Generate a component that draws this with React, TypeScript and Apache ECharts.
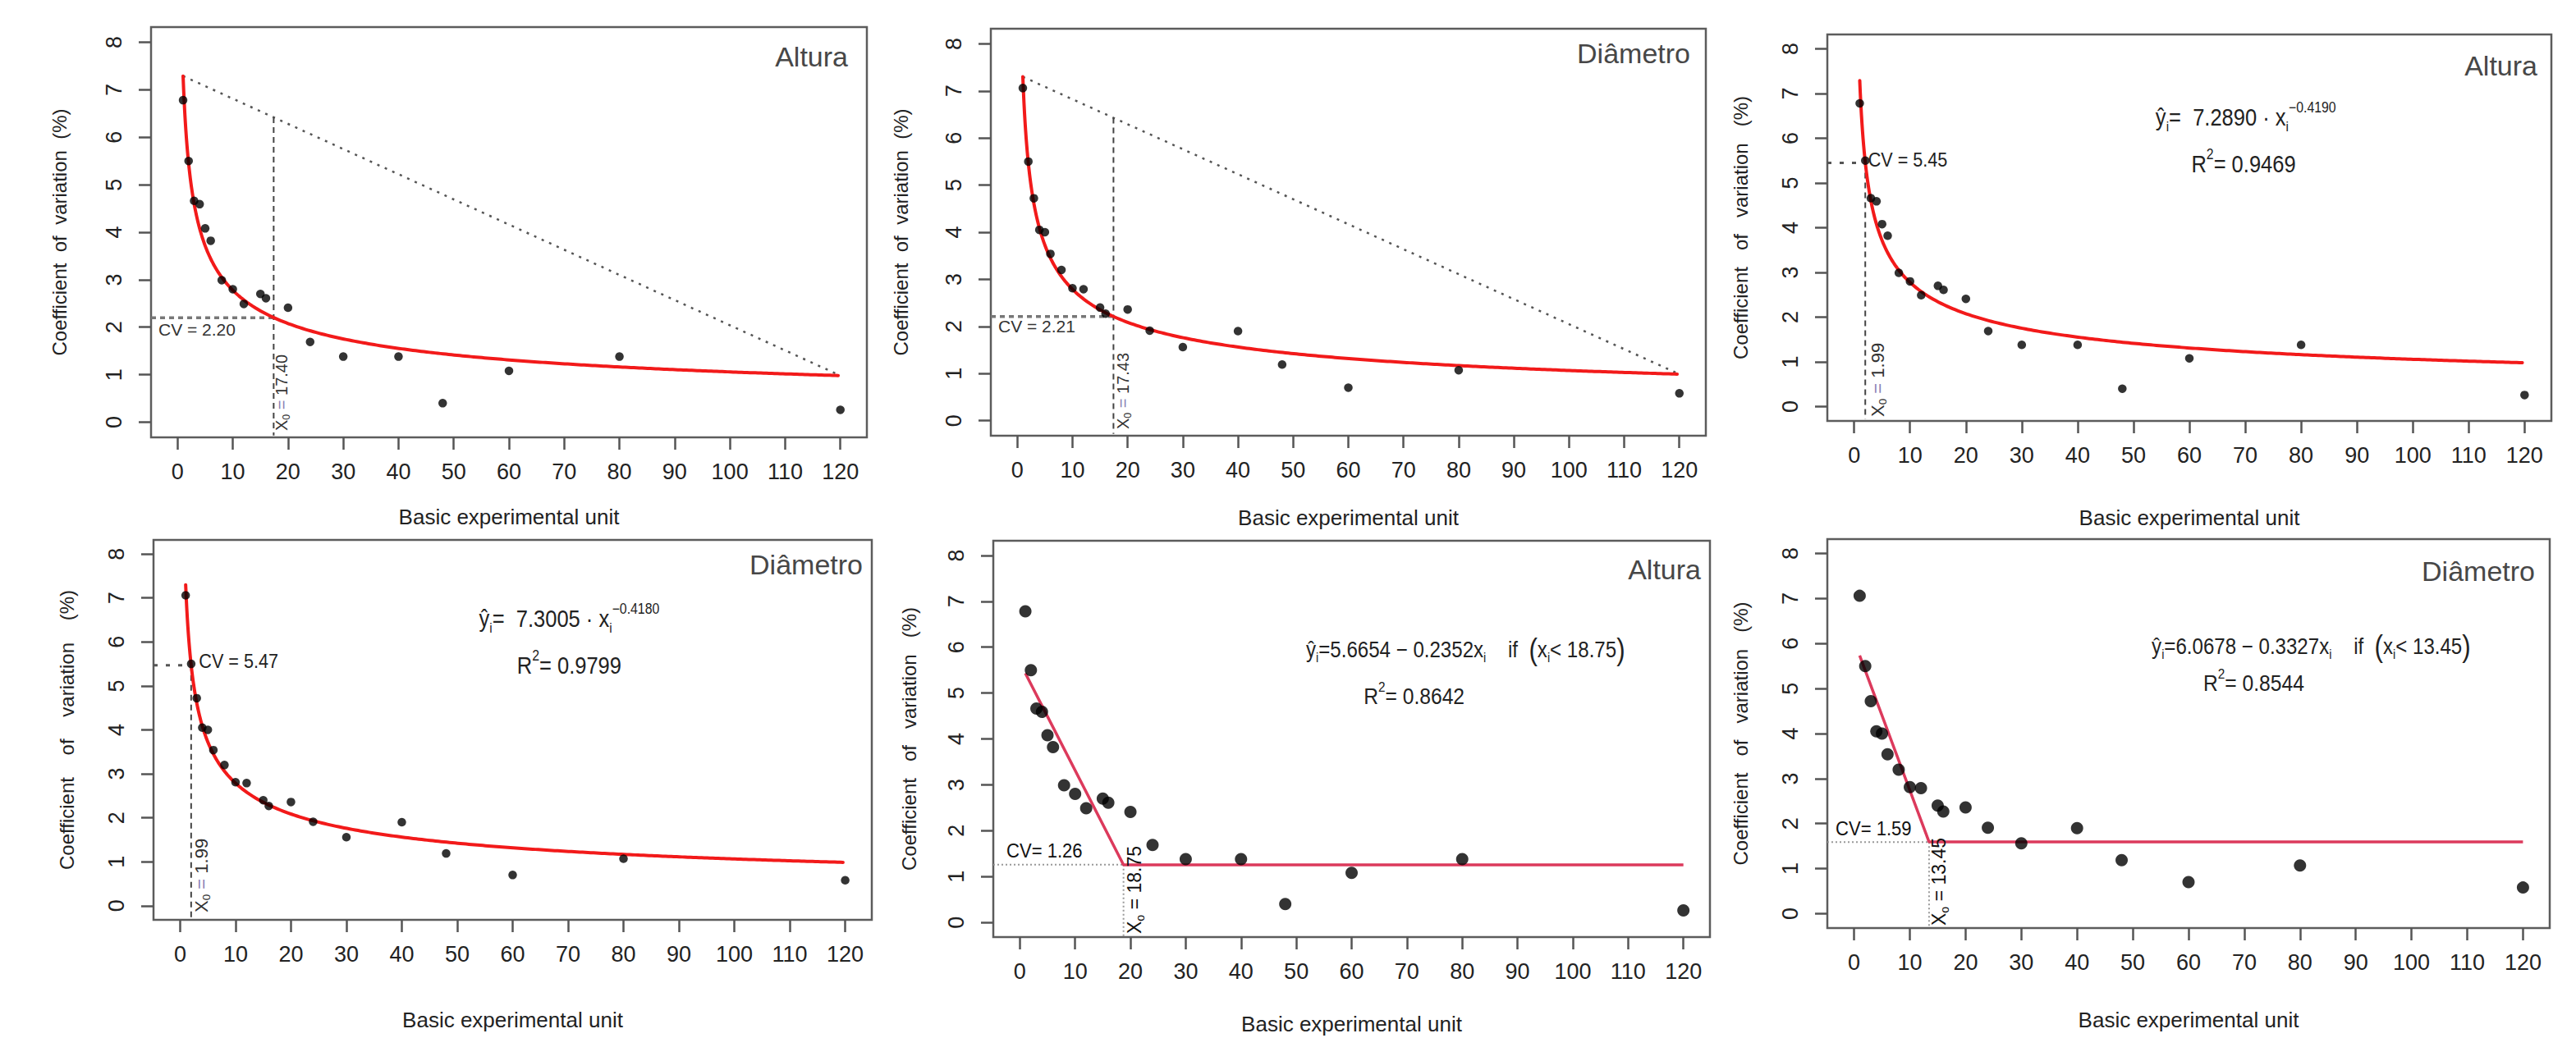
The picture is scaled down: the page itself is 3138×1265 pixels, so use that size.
import React, { useEffect, useRef } from "react";
import * as echarts from "echarts";

// ---------------- data ----------------
const units = [1, 2, 3, 4, 5, 6, 8, 10, 12, 15, 16, 20, 24, 30, 40, 48, 60, 80, 120];
const cvAltura = [6.78, 5.5, 4.66, 4.59, 4.08, 3.82, 2.99, 2.8, 2.49, 2.7, 2.61, 2.41, 1.69, 1.38, 1.38, 0.4, 1.08, 1.38, 0.26];
const cvDiametro = [7.06, 5.5, 4.72, 4.05, 4.0, 3.54, 3.2, 2.81, 2.79, 2.4, 2.27, 2.36, 1.91, 1.56, 1.9, 1.19, 0.7, 1.07, 0.58];
const xTicks = [0, 10, 20, 30, 40, 50, 60, 70, 80, 90, 100, 110, 120];
const yTicks = [0, 1, 2, 3, 4, 5, 6, 7, 8];
const variableNames = ["Altura", "Diâmetro"];

// fitted models (coefficients printed on the chart)
const powerA = [7.289, 7.3005];
const powerB = [-0.419, -0.418];
const powerR2 = ["0.9469", "0.9799"];
const maxDistX0 = [17.4, 17.43];
const maxDistCV = [2.2, 2.21];
const maxCurvX0 = [1.99, 1.99];
const maxCurvCV = [5.45, 5.47];
const plateauA = [5.6654, 6.0678];
const plateauB = [-0.2352, -0.3327];
const plateauX0 = [18.75, 13.45];
const plateauCV = [1.26, 1.59];
const plateauR2 = ["0.8642", "0.8544"];

// x positions at which the fitted power model curve is drawn (1 .. 120)
const curveX: number[] = [];
for (let x = 1; x <= 120.0001; x += x < 10 ? 0.1 : 0.5) curveX.push(Math.round(x * 10) / 10);

// ---------------- layout ----------------
const W = 3138;
const H = 1265;
const FONT = "'Liberation Sans', Arial, Helvetica, sans-serif";
const X_MIN = -4.8;
const X_MAX = 124.8;
const Y_MIN = -0.32;
const Y_MAX = 8.32;

const boxes = [
  { l: 184, t: 33, r: 1056, b: 533 },
  { l: 1207, t: 35, r: 2078, b: 531 },
  { l: 2226, t: 42, r: 3108, b: 513 },
  { l: 187, t: 658, r: 1062, b: 1121 },
  { l: 1210, t: 659, r: 2083, b: 1142 },
  { l: 2226, t: 657, r: 3106, b: 1131 },
];
const yTitleOffset = [112, 110, 106, 106, 103, 106];
const xTitleOffset = [97, 100, 118, 122, 106, 112];
const yTitleText = [
  "Coefficient  of  variation  (%)",
  "Coefficient  of  variation  (%)",
  "Coefficient   of   variation   (%)",
  "Coefficient    of    variation    (%)",
  "Coefficient   of   variation   (%)",
  "Coefficient   of   variation   (%)",
];

function px(p: number, x: number, y: number): [number, number] {
  const b = boxes[p];
  return [
    b.l + ((x - X_MIN) / (X_MAX - X_MIN)) * (b.r - b.l),
    b.b - ((y - Y_MIN) / (Y_MAX - Y_MIN)) * (b.b - b.t),
  ];
}

function text(x: number, y: number, content: string, o: any = {}) {
  const style: any = {
    text: content,
    fill: o.color || "#222",
    fontSize: o.size || 22,
    fontFamily: FONT,
    fontWeight: o.weight || "normal",
    textAlign: o.align || "center",
    align: o.align || "center",
    textVerticalAlign: o.valign || "middle",
    verticalAlign: o.valign || "middle",
  };
  if (o.rich) style.rich = o.rich;
  return {
    type: "text",
    x,
    y,
    rotation: o.rot || 0,
    scaleX: o.sx || 1,
    silent: true,
    z: 100,
    style,
  };
}

function eqRich(size: number) {
  return {
    t: { fill: "#222", fontSize: size, fontFamily: FONT, lineHeight: size * 1.6, verticalAlign: "middle" },
    s: { fill: "#222", fontSize: size * 0.6, fontFamily: FONT, lineHeight: size * 0.6, verticalAlign: "bottom", padding: [0, 0, size * 0.14, 0] },
    p: { fill: "#222", fontSize: size * 0.62, fontFamily: FONT, lineHeight: size * 0.62, verticalAlign: "top", padding: [size * 0.08, 0, 0, 0] },
    bp: { fill: "#222", fontSize: size * 1.3, fontFamily: FONT, lineHeight: size * 1.6, verticalAlign: "middle" },
  };
}

function x0Rich(size: number, color: string) {
  return {
    a: { fill: color, fontSize: size, fontFamily: FONT, lineHeight: size * 1.4, verticalAlign: "middle" },
    b: { fill: color, fontSize: size * 0.62, fontFamily: FONT, lineHeight: size * 0.62, verticalAlign: "bottom", padding: [0, 0, size * 0.12, 0] },
    e: { fill: "#8a7fb6", fontSize: size, fontFamily: FONT, lineHeight: size * 1.4, verticalAlign: "middle" },
  };
}

function buildOption() {
  const grid = boxes.map((b) => ({
    left: b.l,
    top: b.t,
    width: b.r - b.l,
    height: b.b - b.t,
    show: true,
    borderColor: "#5c5c5c",
    borderWidth: 2.5,
    backgroundColor: "transparent",
    containLabel: false,
    outerBoundsMode: "none",
  }));

  const xAxis = boxes.map((_, i) => ({
    type: "value",
    gridIndex: i,
    min: X_MIN,
    max: X_MAX,
    axisLine: { show: false, onZero: false },
    splitLine: { show: false },
    axisTick: { show: true, inside: false, length: 15, customValues: xTicks, lineStyle: { color: "#555", width: 2.5 } },
    axisLabel: { show: true, customValues: xTicks, margin: 28, fontSize: 27, fontFamily: FONT, color: "#222" },
  }));

  const yAxis = boxes.map((_, i) => ({
    type: "value",
    gridIndex: i,
    min: Y_MIN,
    max: Y_MAX,
    axisLine: { show: false, onZero: false },
    splitLine: { show: false },
    axisTick: { show: true, inside: false, length: 15, customValues: yTicks, lineStyle: { color: "#555", width: 2.5 } },
    axisLabel: { show: true, customValues: yTicks, rotate: 90, margin: 32, fontSize: 27, fontFamily: FONT, color: "#222" },
  }));

  const series: any[] = [];
  const graphic: any[] = [];
  const cvs = [cvAltura, cvDiametro];

  const lineSeries = (p: number, data: number[][], lineStyle: any, extra: any = {}) => ({
    type: "line",
    xAxisIndex: p,
    yAxisIndex: p,
    data,
    symbol: "none",
    showSymbol: false,
    silent: true,
    lineStyle,
    z: 3,
    ...extra,
  });

  for (let p = 0; p < 6; p++) {
    const v = p % 2;
    const kind = Math.floor(p / 2);
    const b = boxes[p];
    const obs = units.map((u, i) => [u, cvs[v][i]]);

    if (kind < 2) {
      const f = (x: number) => powerA[v] * Math.pow(x, powerB[v]);
      series.push(lineSeries(p, curveX.map((u) => [u, f(u)]), { color: "#f21a1a", width: 4, cap: "round", join: "round" }, { z: 4 }));
      if (kind === 0) {
        const x0 = maxDistX0[v];
        const cv = maxDistCV[v];
        const y1 = f(1);
        const y120 = f(120);
        const chordAt = y1 + ((y120 - y1) * (x0 - 1)) / 119;
        series.push(lineSeries(p, [[1, y1], [120, y120]], { color: "#555", width: 2.5, type: [3, 7] }));
        series.push(lineSeries(p, [[x0, chordAt], [x0, -0.28]], { color: "#444", width: 2, type: [7, 5] }));
        series.push(lineSeries(p, [[X_MIN, cv], [x0, cv]], { color: "#777", width: 3.5, type: [6, 5] }));
        const cy = px(p, 0, v === 0 ? 1.96 : 2.01)[1];
        graphic.push(text(b.l + 9, cy, `CV = ${cv.toFixed(2)}`, { size: 21, color: "#333", align: "left" }));
        const lx = px(p, v === 0 ? 18.9 : 19.2, 0)[0];
        graphic.push(
          text(lx, b.b - 8, `{a|X}{b|0}{a| }{e|=}{a| ${x0.toFixed(2)}}`, { rot: Math.PI / 2, align: "left", rich: x0Rich(20, "#333") })
        );
      } else {
        const x0 = maxCurvX0[v];
        const cv = maxCurvCV[v];
        series.push(lineSeries(p, [[X_MIN, cv], [x0, cv]], { color: "#555", width: 3, type: [5, 10] }));
        series.push(lineSeries(p, [[x0, cv], [x0, -0.28]], { color: "#444", width: 2, type: [7, 5] }));
        const [cxp, cyp] = px(p, v === 0 ? 2.5 : 3.4, v === 0 ? 5.53 : 5.56);
        graphic.push(text(cxp, cyp, `CV = ${cv.toFixed(2)}`, { size: 24, color: "#222", align: "left", sx: 0.9 }));
        const lx = px(p, v === 0 ? 4.3 : 3.85, 0)[0];
        graphic.push(
          text(lx, b.b - (v === 0 ? 5 : 9), `{a|X}{b|0}{a| }{e|=}{a| ${x0.toFixed(2)}}`, { rot: Math.PI / 2, align: "left", rich: x0Rich(22, "#333") })
        );
        const [ex, ey] = px(p, v === 0 ? 70.1 : 70.2, v === 0 ? 6.47 : 6.53);
        const bAbs = Math.abs(powerB[v]).toFixed(4);
        graphic.push(
          text(ex, ey, `{t|ŷ}{s|i}{t|=  ${powerA[v].toFixed(4)} · x}{s|i}{p|−${bAbs}}`, { rich: eqRich(29), sx: 0.88 })
        );
        const [rx, ry] = px(p, v === 0 ? 69.7 : 70.2, v === 0 ? 5.42 : 5.47);
        graphic.push(text(rx, ry, `{t|R}{p|2}{t|= ${powerR2[v]}}`, { rich: eqRich(29), sx: 0.88 }));
      }
    } else {
      const x0 = plateauX0[v];
      const cv = plateauCV[v];
      const a = plateauA[v];
      const bb = plateauB[v];
      const yPlat = a + bb * x0;
      series.push(lineSeries(p, [[1, a + bb * 1], [x0, yPlat], [120, yPlat]], { color: "#dc3a5c", width: 3.5 }, { z: 4 }));
      series.push(lineSeries(p, [[X_MIN, cv], [x0, cv]], { color: "#999", width: 2, type: [2, 3] }));
      series.push(lineSeries(p, [[x0, cv], [x0, Y_MIN]], { color: "#999", width: 2, type: [2, 3] }));
      const cy = px(p, 0, v === 0 ? 1.57 : 1.9)[1];
      graphic.push(text(b.l + (v === 0 ? 16 : 10), cy, `CV= ${cv.toFixed(2)}`, { size: 24, color: "#111", align: "left", sx: 0.92 }));
      const lx = px(p, v === 0 ? 20.8 : 15.3, 0)[0];
      graphic.push(
        text(lx, b.b - (v === 0 ? 4 : 3), `{a|X}{b|o}{a| = ${x0.toFixed(2)}}`, { rot: Math.PI / 2, align: "left", rich: x0Rich(23, "#111") })
      );
      const [ex, ey] = px(p, v === 0 ? 80.6 : 82, v === 0 ? 5.96 : 5.95);
      graphic.push(
        text(
          ex,
          ey,
          `{t|ŷ}{s|i}{t|=${a.toFixed(4)} − ${Math.abs(bb).toFixed(4)}x}{s|i}{t|    if  }{bp|(}{t|x}{s|i}{t|< ${x0.toFixed(2)}}{bp|)}`,
          { rich: eqRich(28), sx: 0.86 }
        )
      );
      const [rx, ry] = px(p, v === 0 ? 71.3 : 71.7, v === 0 ? 4.94 : 5.13);
      graphic.push(text(rx, ry, `{t|R}{p|2}{t|= ${plateauR2[v]}}`, { rich: eqRich(28), sx: 0.88 }));
    }

    series.push({
      type: "scatter",
      xAxisIndex: p,
      yAxisIndex: p,
      data: obs,
      symbol: "circle",
      symbolSize: kind === 2 ? 15 : 10.5,
      itemStyle: { color: "#000" },
      silent: true,
      z: 6,
    });

    // variable name (top-right)
    const nameRight = [23, 19, 17, 11, 11, 18][p];
    const nameDy = [36, 30, 38, 30, 35, 39][p];
    graphic.push(text(b.r - nameRight, b.t + nameDy, variableNames[v], { size: 34, color: "#474747", align: "right" }));

    // axis titles
    graphic.push(text((b.l + b.r) / 2, b.b + xTitleOffset[p], "Basic experimental unit", { size: 26, color: "#222" }));
    graphic.push(text(b.l - yTitleOffset[p], (b.t + b.b) / 2, yTitleText[p], { size: 24, color: "#222", rot: Math.PI / 2 }));
  }

  return {
    animation: false,
    backgroundColor: "#ffffff",
    grid,
    xAxis,
    yAxis,
    series,
    graphic: { elements: graphic },
  };
}

export default function App() {
  const ref = useRef<HTMLDivElement>(null);
  useEffect(() => {
    if (!ref.current) return;
    const chart = echarts.init(ref.current, undefined, { renderer: "svg", width: W, height: H });
    chart.setOption(buildOption() as any);
    return () => chart.dispose();
  }, []);
  return (
    <div
      ref={ref}
      style={{ position: "absolute", left: 0, top: 0, width: W, height: H, background: "#fff" }}
    />
  );
}
